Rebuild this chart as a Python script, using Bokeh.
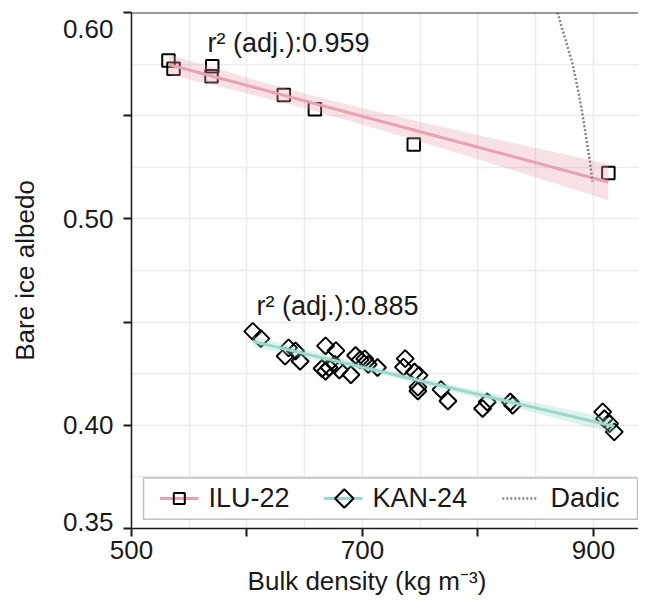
import numpy as np
from bokeh.plotting import figure
from bokeh.models import (Range1d, FixedTicker, Span, Label, BoxAnnotation)
from bokeh.embed import file_html
from bokeh.resources import INLINE

# ---------------- data ----------------
ilu_density = [532.0, 536.4, 569.9, 569.3, 631.9, 658.8, 744.4, 912.9]
ilu_albedo = [0.5768, 0.5728, 0.5740, 0.5691, 0.5600, 0.5531, 0.5360, 0.5222]

kan_density = [605, 612, 636, 633, 642, 646, 668, 677, 665, 668, 671, 676, 680, 690,
               694, 698, 702, 705, 713,
               737, 735.5, 745, 749, 748, 748, 768, 774, 804, 808, 828, 830,
               908, 909.5, 914, 918]
kan_albedo = [0.4455, 0.4420, 0.4375, 0.4335, 0.4360, 0.4310, 0.4385, 0.4362, 0.4275,
              0.4262, 0.4280, 0.4295, 0.4268, 0.4245, 0.4338, 0.4318, 0.4322, 0.4295,
              0.4280,
              0.4323, 0.4282, 0.4258, 0.4242, 0.4185, 0.4166, 0.4173, 0.4118, 0.4081,
              0.4113, 0.4113, 0.4097,
              0.4065, 0.4032, 0.4008, 0.3968]

dadic_density = [868.8, 875.1, 881.5, 886.1, 890.2, 893.6, 896.8, 899.1]
dadic_albedo = [0.600, 0.5881, 0.5760, 0.5639, 0.5518, 0.5397, 0.5284, 0.5179]

series_names = ["ILU-22", "KAN-24", "Dadic"]
r2_labels = ["r\u00b2 (adj.):0.959", "r\u00b2 (adj.):0.885"]

x_major = [500, 600, 700, 800, 900]
x_label_map = {500: "500", 600: "", 700: "700", 800: "", 900: "900"}
y_major = [0.35, 0.40, 0.50, 0.60]
# end labels are nudged inward (as in the reference) via an extra blank line
y_label_map = {0.35: "0.35\n", 0.40: "0.40", 0.50: "0.50", 0.60: " \n0.60"}
y_minor = [0.45, 0.55]
x_grid = [500, 550, 600, 650, 700, 750, 800, 850, 900]
y_grid = [0.35, 0.375, 0.40, 0.425, 0.45, 0.475, 0.50, 0.525, 0.55, 0.575, 0.60]

PINK = "#E8A1AD"
TEAL = "#9AD8CA"
GREY = "#858585"
INK = "#1a1a1a"
FONT = "Liberation Sans"
FS = "26px"

# ---------------- frame geometry ----------------
W, H = 638, 602
BL, BT, BB = 131, 12, 74
X0, X1 = 500.0, 939.0
Y0, Y1 = 0.35, 0.60
FW, FH = W - BL, H - BT - BB


def px_to_x(px):
    return X0 + (px - BL) * (X1 - X0) / FW


def px_to_y(py):
    return Y1 - (py - BT) * (Y1 - Y0) / FH


def fit_band(x, y, t):
    x = np.asarray(x, float)
    y = np.asarray(y, float)
    n = len(x)
    b, a = np.polyfit(x, y, 1)
    xs = np.linspace(x.min(), x.max(), 100)
    yhat = a + b * xs
    resid = y - (a + b * x)
    s = np.sqrt(np.sum(resid ** 2) / (n - 2))
    se = s * np.sqrt(1.0 / n + (xs - x.mean()) ** 2 / np.sum((x - x.mean()) ** 2))
    return xs, yhat, yhat - t * se, yhat + t * se


p = figure(width=W, height=H,
           x_range=Range1d(X0, X1), y_range=Range1d(Y0, Y1),
           output_backend="svg", toolbar_location=None,
           min_border_left=BL, min_border_right=0,
           min_border_top=BT, min_border_bottom=BB)
p.outline_line_color = None
p.background_fill_color = "white"

# grid
p.xgrid.ticker = FixedTicker(ticks=x_grid)
p.ygrid.ticker = FixedTicker(ticks=y_grid)
for g in (p.xgrid, p.ygrid):
    g.grid_line_color = "#EBEBEB"
    g.grid_line_width = 1.5

# axes
p.xaxis.ticker = FixedTicker(ticks=x_major)
p.xaxis.major_label_overrides = dict(x_label_map)
p.yaxis.ticker = FixedTicker(ticks=y_major, minor_ticks=y_minor)
p.yaxis.major_label_overrides = dict(y_label_map)
for ax in (p.xaxis, p.yaxis):
    ax.axis_line_color = INK
    ax.axis_line_width = 1.5
    ax.major_tick_line_color = INK
    ax.major_tick_line_width = 2
    ax.major_tick_out = 8
    ax.major_tick_in = 0
    ax.minor_tick_line_color = INK
    ax.minor_tick_line_width = 2
    ax.minor_tick_out = 8
    ax.minor_tick_in = 0
    ax.major_label_text_font = FONT
    ax.major_label_text_font_size = FS
    ax.major_label_text_color = INK
    ax.axis_label_text_font = FONT
    ax.axis_label_text_font_size = FS
    ax.axis_label_text_font_style = "normal"
    ax.axis_label_text_color = INK
p.yaxis.major_label_text_line_height = 0.45
p.xaxis.minor_tick_out = 0
# trailing no-break spaces shift the centred title left, as in the reference
p.xaxis.axis_label = "Bulk density (kg m\u207b\u00b3)" + "\u00a0" * 5
p.yaxis.axis_label = "Bare ice albedo"
p.xaxis.major_label_standoff = 4
p.yaxis.major_label_standoff = 10
p.xaxis.axis_label_standoff = 4
p.yaxis.axis_label_standoff = 20

p.add_layout(Span(location=Y1, dimension="width", line_color="#333333", line_width=2))

# points
p.scatter(ilu_density, ilu_albedo, marker="square", size=12.5,
          line_color="black", line_width=2, fill_alpha=0)
p.scatter(kan_density, kan_albedo, marker="square", angle=np.pi / 4, size=12,
          line_color="black", line_width=2, fill_alpha=0)

# fits
xs, yh, lo, hi = fit_band(ilu_density, ilu_albedo, 2.447)
p.varea(x=xs, y1=lo, y2=hi, fill_color=PINK, fill_alpha=0.32)
p.line(xs, yh, line_color=PINK, line_width=3)

xs2, yh2, lo2, hi2 = fit_band(kan_density, kan_albedo, 2.035)
p.varea(x=xs2, y1=lo2, y2=hi2, fill_color=TEAL, fill_alpha=0.32)
p.line(xs2, yh2, line_color=TEAL, line_width=3)

p.line(dadic_density, dadic_albedo, line_color=GREY, line_width=2.5, line_dash="2 2")

# annotations
p.add_layout(Label(x=px_to_x(207), y=px_to_y(42), text=r2_labels[0], text_baseline="middle",
                   text_font=FONT, text_font_size="27px", text_color=INK))
p.add_layout(Label(x=px_to_x(256), y=px_to_y(305), text=r2_labels[1], text_baseline="middle",
                   text_font=FONT, text_font_size="27px", text_color=INK))

# ---------------- legend (drawn by hand so the diamond is a true diamond) ----------------
ly = px_to_y(498)
box = BoxAnnotation(left=px_to_x(143), right=px_to_x(637), top=px_to_y(477.4),
                    bottom=px_to_y(518.7), fill_color="white", fill_alpha=1,
                    line_color="#333333", line_width=1.5, level="glyph")
p.add_layout(box)
p.line([px_to_x(159.5), px_to_x(198)], [ly, ly], line_color=PINK, line_width=3,
       level="overlay")
p.scatter([px_to_x(178.8)], [ly], marker="square", size=11, line_color="black",
          line_width=2, fill_alpha=0, level="overlay")
p.line([px_to_x(323.6), px_to_x(362)], [ly, ly], line_color=TEAL, line_width=3,
       level="overlay")
p.scatter([px_to_x(343.8)], [ly], marker="square", angle=np.pi / 4, size=13,
          line_color="black", line_width=2, fill_alpha=0, level="overlay")
p.line([px_to_x(501.8), px_to_x(537.7)], [ly, ly], line_color=GREY, line_width=2.5,
       line_dash="2 2", level="overlay")
for name, lx in zip(series_names, [208, 372, 550]):
    p.add_layout(Label(x=px_to_x(lx), y=px_to_y(497), text=name, text_baseline="middle",
                       text_font=FONT, text_font_size="27px", text_color=INK))

open("out.html", "w").write(file_html(p, INLINE))
